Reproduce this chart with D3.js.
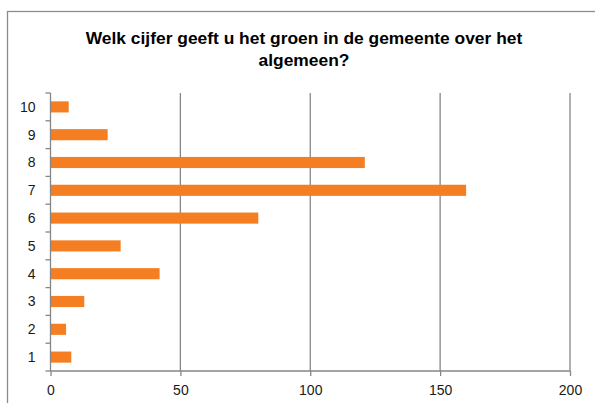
<!DOCTYPE html>
<html lang="nl">
<head>
  <meta charset="UTF-8">
  <title>Welk cijfer geeft u het groen</title>
  <style>
    body {
      margin: 0;
      background: #fff;
      overflow: hidden;
    }
    svg {
      display: block;
      font-family: "Liberation Sans", Arial, sans-serif;
    }
    .grid line {
      stroke: #868686;
      stroke-width: 1.3px;
    }
    .axis path, .axis line {
      stroke: #868686;
      stroke-width: 1.3px;
    }
    .axis text {
      fill: #1a1a1a;
      font-size: 14px;
    }
    .title {
      font-size: 17.4px;
      font-weight: bold;
      fill: #000;
    }
  </style>
</head>
<body>
  <svg width="595" height="403"></svg>
  <script src="https://d3js.org/d3.v7.min.js"></script>
  <script>
    // data
    const categories = ["1", "2", "3", "4", "5", "6", "7", "8", "9", "10"];
    const counts = [8, 6, 13, 42, 27, 80, 160, 121, 22, 7];
    const xTicks = [0, 50, 100, 150, 200];
    const titleLines = ["Welk cijfer geeft u het groen in de gemeente over het", "algemeen?"];

    const svg = d3.select("svg");
    const width = 595;
    const height = 403;
    const margin = { top: 93, right: 25, bottom: 32, left: 50.5 };
    const plotW = width - margin.left - margin.right;
    const plotH = height - margin.top - margin.bottom;

    // outer chart frame (runs off the right and bottom edges)
    svg.append("rect")
      .attr("x", 7.5)
      .attr("y", 11.5)
      .attr("width", 700)
      .attr("height", 500)
      .attr("fill", "none")
      .attr("stroke", "#8c8c8c")
      .attr("stroke-width", 1.3);

    // title
    const title = svg.append("text")
      .attr("class", "title")
      .attr("text-anchor", "middle");
    titleLines.forEach((line, i) => {
      title.append("tspan")
        .attr("x", 304)
        .attr("y", 44 + i * 22)
        .text(line);
    });

    const g = svg.append("g")
      .attr("transform", `translate(${margin.left},${margin.top})`);

    const x = d3.scaleLinear()
      .domain([0, 200])
      .range([0, plotW]);

    // 10 at top, 1 at bottom
    const y = d3.scaleBand()
      .domain(categories.slice().reverse())
      .range([0, plotH])
      .paddingInner(0.6)
      .paddingOuter(0.3);

    // vertical gridlines
    g.append("g")
      .attr("class", "grid")
      .selectAll("line")
      .data(xTicks.filter(d => d > 0))
      .join("line")
      .attr("x1", d => x(d))
      .attr("x2", d => x(d))
      .attr("y1", 0)
      .attr("y2", plotH);

    // bars
    g.append("g")
      .selectAll("rect")
      .data(categories.map((c, i) => ({ cat: c, value: counts[i] })))
      .join("rect")
      .attr("x", 0)
      .attr("y", d => y(d.cat))
      .attr("width", d => x(d.value))
      .attr("height", y.bandwidth())
      .attr("fill", "#f57d22");

    // y axis: ticks between categories, like Excel
    const step = plotH / categories.length;
    const yAxis = g.append("g").attr("class", "axis");
    yAxis.append("line")
      .attr("x1", 0).attr("x2", 0)
      .attr("y1", 0).attr("y2", plotH);
    yAxis.selectAll("line.tick")
      .data(d3.range(categories.length + 1))
      .join("line")
      .attr("class", "tick")
      .attr("x1", -5).attr("x2", 0)
      .attr("y1", d => d * step)
      .attr("y2", d => d * step);
    yAxis.selectAll("text")
      .data(y.domain())
      .join("text")
      .attr("x", -15)
      .attr("y", d => y(d) + y.bandwidth() / 2)
      .attr("dy", "0.35em")
      .attr("text-anchor", "end")
      .text(d => d);

    // x axis
    const xAxis = g.append("g")
      .attr("class", "axis")
      .attr("transform", `translate(0,${plotH})`)
      .call(d3.axisBottom(x).tickValues(xTicks).tickSize(5).tickSizeOuter(0).tickPadding(9));
    xAxis.select(".domain").attr("d", `M0,0H${plotW}`);
  </script>
</body>
</html>
